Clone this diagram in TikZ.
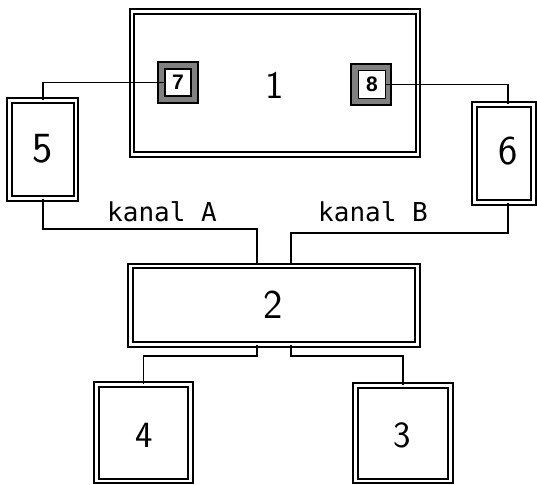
\documentclass[tikz,border=0pt]{standalone}
\usepackage{fontspec}
\newfontfamily\monofont{DejaVu Sans Mono}
\newfontfamily\smallfont{Liberation Sans}
\tikzset{
  dbox/.style={draw, double, line width=1.8pt, double distance=2.6pt, inner sep=0pt, font=\sffamily},
  outsq/.style={draw, line width=2pt, fill=black!50, inner sep=0pt},
  insq/.style={draw, line width=1.4pt, fill=white, inner sep=0pt, font=\smallfont\bfseries\fontsize{21}{22}\selectfont},
  conn/.style={line width=1.8pt},
  lbl/.style={font=\monofont\fontsize{26}{28}\selectfont, inner sep=0pt},
  dig/.style={font=\sffamily\fontsize{#1}{#1}\selectfont, inner sep=0pt}
}
\begin{document}
\begin{tikzpicture}[x=1pt,y=-1pt]
\clip (0,0) rectangle (537,484);
\fill[white] (0,0) rectangle (537,484);
% main boxes
\node[dbox, minimum width=286pt, minimum height=143pt] (b1) at (275,83) {};
\node[dbox, minimum width=66.5pt, minimum height=98pt] (b5) at (42.75,149.5) {};
\node[dbox, minimum width=59pt, minimum height=98pt] (b6) at (504,153.5) {};
\node[dbox, minimum width=287pt, minimum height=78.5pt] (b2) at (274,305.25) {};
\node[dbox, minimum width=94pt, minimum height=96.5pt] (b4) at (143.5,432.75) {};
\node[dbox, minimum width=95pt, minimum height=95.5pt] (b3) at (403,433.25) {};
% digit labels
\node[dig=39] (t1) at (275,85) {1};
\node[dig=43] (t5) at (43,149) {5};
\node[dig=41] (t6) at (508,151) {6};
\node[dig=41] (t2) at (273.5,305) {2};
\node[dig=37] (t4) at (144.5,435) {4};
\node[dig=37] (t3) at (402.5,435) {3};
% small squares 7 and 8
\node[outsq, minimum width=40pt, minimum height=40pt] (o7) at (178,82.5) {};
\node[insq, minimum width=26pt, minimum height=27pt] (s7) at (178,82.5) {7};
\node[outsq, minimum width=40pt, minimum height=41pt] (o8) at (371.25,84.25) {};
\node[insq, minimum width=27pt, minimum height=28pt] (s8) at (372,84.5) {8};
% coordinates for connectors
\coordinate (c6) at (508,0);
\coordinate (ka) at (257,229);
\coordinate (kb) at (291,233);
\coordinate (la) at (257,356);
\coordinate (lb) at (291,356);
% connectors
\draw[conn] (s7.west) -| (b5.north);
\draw[conn] (s8.east) -| (c6 |- b6.north);
\draw[conn] (b5.south) |- (ka) -- (ka |- b2.north);
\draw[conn] (c6 |- b6.south) |- (kb) -- (kb |- b2.north);
\draw[conn] (la |- b2.south) -- (la) -| (b4.north);
\draw[conn] (lb |- b2.south) -- (lb) -| (b3.north);
% channel labels
\node[lbl] (kA) at (162,212) {kanal A};
\node[lbl] (kB) at (373,212) {kanal B};
\end{tikzpicture}
\end{document}
